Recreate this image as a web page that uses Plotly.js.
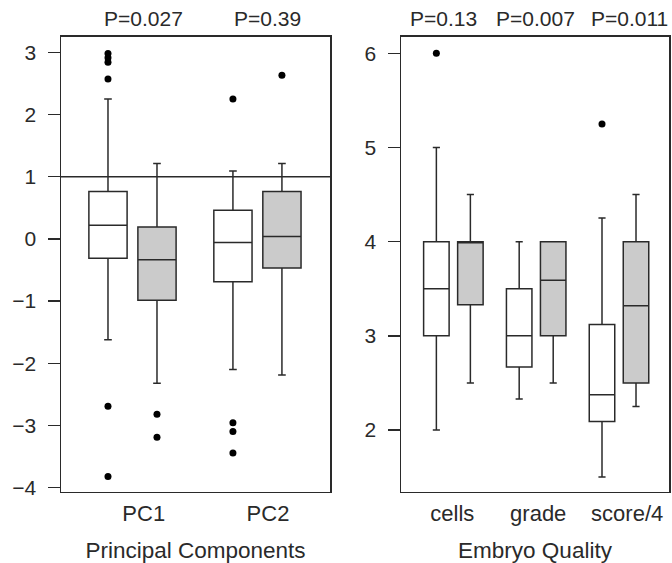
<!DOCTYPE html>
<html>
<head>
<meta charset="utf-8">
<script src="https://cdn.plot.ly/plotly-3.0.1.min.js"></script>
<style>html,body{margin:0;padding:0;background:#fff;}#chart{width:672px;height:563px;}</style>
</head>
<body>
<div id="chart"></div>
<script>
// ---------------- DATA ----------------
// Left panel: Principal Components
const pcLabels = ['PC1', 'PC2'];
const pcPValues = ['P=0.027', 'P=0.39'];
const pcWhiteLower  = [-1.62, -2.10];
const pcWhiteQ1     = [-0.31, -0.69];
const pcWhiteMedian = [0.22, -0.06];
const pcWhiteQ3     = [0.76, 0.46];
const pcWhiteUpper  = [2.25, 1.09];
const pcGreyLower   = [-2.32, -2.19];
const pcGreyQ1      = [-0.985, -0.47];
const pcGreyMedian  = [-0.335, 0.04];
const pcGreyQ3      = [0.19, 0.76];
const pcGreyUpper   = [1.21, 1.21];
const pcWhiteOutliers = [[2.98, 2.91, 2.84, 2.57, -2.69, -3.82], [2.25, -2.955, -3.095, -3.44]];
const pcGreyOutliers  = [[-2.82, -3.19], [2.63]];
const pcReferenceLine = 1;
const pcYTicks = [-4, -3, -2, -1, 0, 1, 2, 3];

// Right panel: Embryo Quality
const eqLabels = ['cells', 'grade', 'score/4'];
const eqPValues = ['P=0.13', 'P=0.007', 'P=0.011'];
const eqWhiteLower  = [2.0, 2.33, 1.5];
const eqWhiteQ1     = [3.0, 2.67, 2.09];
const eqWhiteMedian = [3.5, 3.0, 2.375];
const eqWhiteQ3     = [4.0, 3.5, 3.12];
const eqWhiteUpper  = [5.0, 4.0, 4.25];
const eqGreyLower   = [2.5, 2.5, 2.25];
const eqGreyQ1      = [3.33, 3.0, 2.5];
const eqGreyMedian  = [4.0, 3.59, 3.32];
const eqGreyQ3      = [4.0, 4.0, 4.0];
const eqGreyUpper   = [4.5, 4.0, 4.5];
const eqWhiteOutliers = [[6.0], [], [5.25]];
const eqGreyOutliers  = [[], [], []];
const eqYTicks = [2, 3, 4, 5, 6];

// ---------------- LAYOUT HELPERS ----------------
const W = 672, H = 563;
const FONT = '"Liberation Sans", Arial, Helvetica, sans-serif';
const INK = '#2a2a2a';
const GREY = '#cbcbcb';
const LW = 1.5;

// pair centres (axis units)
const pcCenters = pcLabels.map((_, i) => 1.5 + i * 2.55);
const eqCenters = eqLabels.map((_, i) => 1.54 + i * 2.435);
const pcHalf = 0.5, eqHalf = 0.5;
const pcLabelShift = [0.23, 0.215];
const pcPShift = [0.23, 0.215];
const eqLabelShift = [-0.03, 0.06, 0.24];
const eqPShift = [-0.29, -0.03, 0.30];

function boxTrace(xs, q1, med, q3, lo, hi, fill, width, ww, xa, ya) {
  return {
    type: 'box', x: xs, q1: q1, median: med, q3: q3,
    lowerfence: lo, upperfence: hi,
    boxpoints: false, width: width, whiskerwidth: ww,
    fillcolor: fill, line: {color: INK, width: LW},
    xaxis: xa, yaxis: ya, showlegend: false, hoverinfo: 'skip'
  };
}
function outlierTrace(xs, groups, xa, ya) {
  const x = [], y = [];
  groups.forEach((g, i) => g.forEach(v => { x.push(xs[i]); y.push(v); }));
  return {
    type: 'scatter', mode: 'markers', x: x, y: y,
    marker: {color: '#000', size: 7},
    xaxis: xa, yaxis: ya, showlegend: false, hoverinfo: 'skip'
  };
}

const pcWhiteX = pcCenters.map(c => c - pcHalf);
const pcGreyX  = pcCenters.map(c => c + pcHalf);
const eqWhiteX = eqCenters.map(c => c - eqHalf);
const eqGreyX  = eqCenters.map(c => c + eqHalf);

const traces = [
  boxTrace(pcWhiteX, pcWhiteQ1, pcWhiteMedian, pcWhiteQ3, pcWhiteLower, pcWhiteUpper, '#ffffff', 0.78, 0.2, 'x', 'y'),
  boxTrace(pcGreyX, pcGreyQ1, pcGreyMedian, pcGreyQ3, pcGreyLower, pcGreyUpper, GREY, 0.78, 0.2, 'x', 'y'),
  outlierTrace(pcWhiteX, pcWhiteOutliers, 'x', 'y'),
  outlierTrace(pcGreyX, pcGreyOutliers, 'x', 'y'),
  boxTrace(eqWhiteX, eqWhiteQ1, eqWhiteMedian, eqWhiteQ3, eqWhiteLower, eqWhiteUpper, '#ffffff', 0.75, 0.28, 'x2', 'y2'),
  boxTrace(eqGreyX, eqGreyQ1, eqGreyMedian, eqGreyQ3, eqGreyLower, eqGreyUpper, GREY, 0.75, 0.28, 'x2', 'y2'),
  outlierTrace(eqWhiteX, eqWhiteOutliers, 'x2', 'y2'),
  outlierTrace(eqGreyX, eqGreyOutliers, 'x2', 'y2')
];

const yDom = [1 - 491.7 / H, 1 - 36.7 / H];
const tickFont = {family: FONT, size: 21, color: INK};
const xTickFont = {family: FONT, size: 22, color: INK};
const titleFont = {family: FONT, size: 22.5, color: INK};

function xAxis(domain, range, tickvals, ticktext, title, anchor) {
  return {
    domain: domain, range: range, anchor: anchor,
    tickvals: tickvals, ticktext: ticktext, ticks: '', ticklen: 0,
    ticklabelstandoff: 1,
    tickfont: xTickFont, showgrid: false, zeroline: false,
    showline: true, mirror: true, linecolor: INK, linewidth: LW,
    title: {text: title, font: titleFont, standoff: 20},
    fixedrange: true
  };
}
function yAxis(range, tickvals, anchor) {
  return {
    domain: yDom, range: range, anchor: anchor,
    tickvals: tickvals, ticktext: tickvals.map(v => v < 0 ? '\u2212' + Math.abs(v) : String(v)),
    ticks: 'outside', ticklen: 12, tickwidth: LW, tickcolor: INK,
    ticklabelstandoff: 7,
    tickfont: tickFont, showgrid: false, zeroline: false,
    showline: true, mirror: true, linecolor: INK, linewidth: LW,
    fixedrange: true
  };
}

const annotations = [];
pcPValues.forEach((t, i) => annotations.push({
  xref: 'x', yref: 'paper', x: pcCenters[i] + pcPShift[i], y: 1 - 19 / H,
  yanchor: 'middle', xanchor: 'center', showarrow: false, text: t, font: tickFont
}));
eqPValues.forEach((t, i) => annotations.push({
  xref: 'x2', yref: 'paper', x: eqCenters[i] + eqPShift[i], y: 1 - 19 / H,
  yanchor: 'middle', xanchor: 'center', showarrow: false, text: t, font: tickFont
}));

const layout = {
  width: W, height: H,
  margin: {l: 0, r: 0, t: 0, b: 0},
  paper_bgcolor: '#fff', plot_bgcolor: '#fff',
  font: {family: FONT, color: INK},
  showlegend: false, hovermode: false,
  xaxis: xAxis([61 / W, 330 / W], [0.041, 5.531], pcCenters.map((c, i) => c + pcLabelShift[i]), pcLabels, 'Principal Components', 'y'),
  yaxis: yAxis([-4.064, 3.25], pcYTicks, 'x'),
  xaxis2: xAxis([401 / W, 669 / W], [0, 7.88], eqCenters.map((c, i) => c + eqLabelShift[i]), eqLabels, 'Embryo Quality', 'y2'),
  yaxis2: yAxis([1.345, 6.176], eqYTicks, 'x2'),
  shapes: [{
    type: 'line', xref: 'x domain', yref: 'y', x0: 0, x1: 1,
    y0: pcReferenceLine, y1: pcReferenceLine,
    line: {color: INK, width: LW}
  }],
  annotations: annotations
};

Plotly.newPlot('chart', traces, layout, {displayModeBar: false, staticPlot: true});
</script>
</body>
</html>
